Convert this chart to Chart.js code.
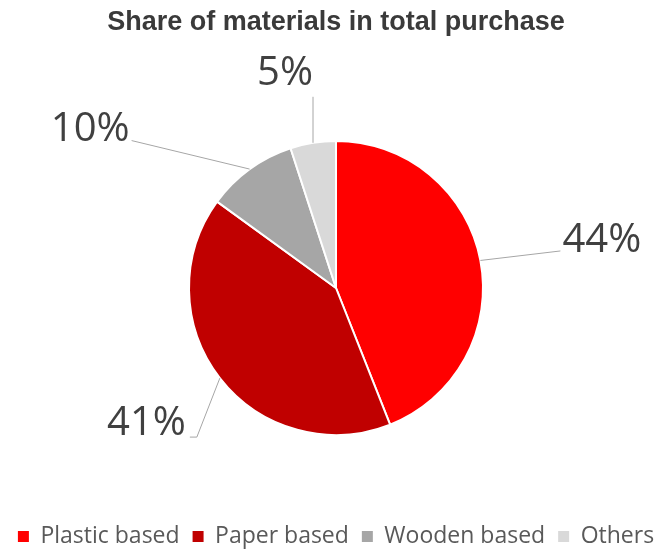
<!DOCTYPE html>
<html>
<head>
<meta charset="utf-8">
<script src="https://cdn.jsdelivr.net/npm/chart.js@4"></script>
<style>
  html, body { margin: 0; padding: 0; background: #fff; }
</style>
</head>
<body>
<canvas id="chart" width="668" height="552"></canvas>
<script>
const categories = ['Plastic based', 'Paper based', 'Wooden based', 'Others'];
const shares = [44, 41, 10, 5];
const sliceColors = ['#FF0000', '#C00000', '#A6A6A6', '#D9D9D9'];
const chartTitle = 'Share of materials in total purchase';

// leader line bends and label anchors, relative to the point on the rim
const leaderLines = [
  { path: [[80, -9.5]], text: [82, -8.5], align: 'left' },
  { path: [[-23, 59], [-30, 59]], text: [-34, 57], align: 'right' },
  { path: [[-118, -28.5]], text: [-120, -28], align: 'right' },
  { path: [[0, -46]], text: [0, -58], align: 'right' }
];

const pieLabels = {
  id: 'pieLabels',
  afterDatasetsDraw(chart) {
    const ctx = chart.ctx;
    const arcs = chart.getDatasetMeta(0).data;
    ctx.save();
    arcs.forEach((arc, i) => {
      const { x, y, startAngle, endAngle, outerRadius } =
        arc.getProps(['x', 'y', 'startAngle', 'endAngle', 'outerRadius'], true);
      const mid = (startAngle + endAngle) / 2;
      const px = x + Math.cos(mid) * outerRadius;
      const py = y + Math.sin(mid) * outerRadius;
      const lay = leaderLines[i];

      ctx.beginPath();
      ctx.moveTo(px, py);
      lay.path.forEach(([dx, dy]) => ctx.lineTo(px + dx, py + dy));
      ctx.strokeStyle = '#A6A6A6';
      ctx.lineWidth = 1;
      ctx.stroke();

      ctx.font = '40px "Open Sans"';
      ctx.fillStyle = '#404040';
      ctx.textAlign = lay.align;
      ctx.textBaseline = 'alphabetic';
      ctx.fillText(shares[i] + '%', px + lay.text[0], py + lay.text[1]);
    });
    ctx.restore();
  }
};

new Chart(document.getElementById('chart'), {
  type: 'pie',
  data: {
    labels: categories,
    datasets: [{
      data: shares,
      backgroundColor: sliceColors,
      borderColor: '#ffffff',
      borderWidth: 2
    }]
  },
  options: {
    responsive: false,
    animation: false,
    radius: 147,
    layout: { padding: { left: 4, right: 0, top: 0, bottom: -6 } },
    plugins: {
      title: {
        display: true,
        text: chartTitle,
        color: '#3a3a3a',
        font: { family: '"Liberation Sans", Arial, sans-serif', size: 27, weight: 'bold' },
        padding: { top: 6.3, bottom: 25.3 }
      },
      legend: {
        position: 'bottom',
        labels: {
          boxWidth: 11,
          boxHeight: 11,
          padding: 13,
          color: '#595959',
          font: { family: '"Open Sans"', size: 23 },
          generateLabels(chart) {
            return Chart.overrides.pie.plugins.legend.labels.generateLabels(chart)
              .map(item => ({ ...item, lineWidth: 0, strokeStyle: 'transparent' }));
          }
        }
      },
      tooltip: { enabled: false }
    }
  },
  plugins: [pieLabels]
});
</script>
</body>
</html>
